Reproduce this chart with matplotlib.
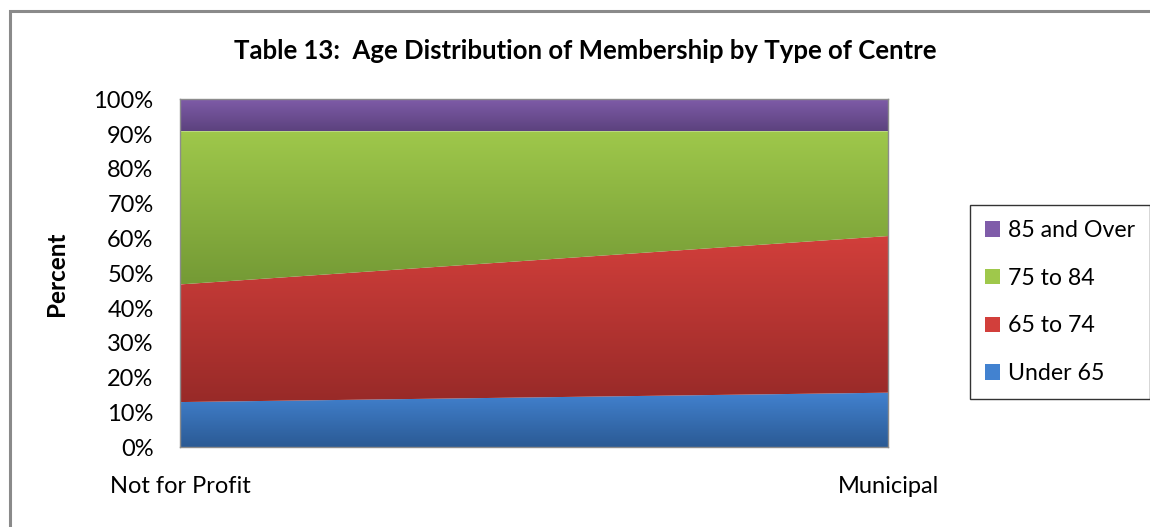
import numpy as np
import matplotlib
matplotlib.use('Agg')
import matplotlib.pyplot as plt
from matplotlib.colors import LinearSegmentedColormap
from matplotlib.patches import Rectangle
from matplotlib.ticker import MultipleLocator, PercentFormatter

plt.rcParams['font.family'] = ['Lato', 'DejaVu Sans']

# share of members (%) in each age band, per centre type
centres = ['Not for Profit', 'Municipal']
under_65 = [13.0, 15.7]
age_65_74 = [33.8, 45.0]
age_75_84 = [44.0, 30.1]
age_85_over = [9.2, 9.2]

series = [
    ('Under 65', under_65, '#4282d0', '#2b5a94'),
    ('65 to 74', age_65_74, '#d23f3b', '#982a28'),
    ('75 to 84', age_75_84, '#9fc84b', '#749a35'),
    ('85 and Over', age_85_over, '#7f5ca9', '#5c427e'),
]

fig = plt.figure(figsize=(11.5, 5.27), dpi=100)
ax = fig.add_axes([0.1565, 0.1512, 0.6157, 0.6604])

x = np.arange(len(centres))
totals = np.sum([s[1] for s in series], axis=0)
base = np.zeros(len(centres))
handles = []
for name, vals, c_top, c_bot in series:
    top = base + np.array(vals) / totals
    poly = ax.fill_between(x, base, top, color=c_top, linewidth=0)
    poly.set_facecolor('none')
    # vertical gradient clipped to the band
    cmap = LinearSegmentedColormap.from_list(name, [c_bot, c_top])
    grad = np.linspace(0, 1, 256).reshape(-1, 1)
    im = ax.imshow(grad, cmap=cmap, aspect='auto', origin='lower',
                   extent=[x[0], x[-1], base.min(), top.max()],
                   interpolation='bilinear', zorder=1)
    im.set_clip_path(poly.get_paths()[0], transform=ax.transData)
    handles.append(Rectangle((0, 0), 1, 1, facecolor=c_top,
                             edgecolor='none', label=name))
    base = top

ax.set_xlim(0, 1)
ax.set_ylim(0, 1)
ax.yaxis.set_major_locator(MultipleLocator(0.1))
ax.yaxis.set_major_formatter(PercentFormatter(1.0, decimals=0))
ax.set_xticks(x, centres)
ax.tick_params(axis='y', length=0, pad=19, labelsize=17)
ax.tick_params(axis='x', length=0, pad=21, labelsize=17)
for sp in ax.spines.values():
    sp.set_color('#8c8c8c')
    sp.set_linewidth(1.0)

ax.set_ylabel('Percent', fontsize=17.5, fontweight='bold', labelpad=18)
fig.text(0.509, 0.903, 'Table 13:  Age Distribution of Membership by Type of Centre',
         ha='center', va='center', fontsize=18.5, fontweight='bold')

leg = fig.legend(handles=handles[::-1], loc='upper left',
                 bbox_to_anchor=(970 / 1150, 1 - 205 / 527),
                 frameon=True, fancybox=False, fontsize=16.7,
                 handlelength=0.65, handleheight=0.65, handletextpad=0.35,
                 labelspacing=1.15, borderpad=0.65, borderaxespad=0)
leg.get_frame().set_edgecolor('black')
leg.get_frame().set_linewidth(1.0)

# outer chart border, runs off the right and bottom edges
fig.add_artist(Rectangle((9.5 / 1150, -0.1), 1.2, 1.1 - 11 / 527,
                         transform=fig.transFigure, facecolor='none',
                         edgecolor='#8a8a8a', linewidth=2.2))

fig.savefig('out.png', dpi=100)
